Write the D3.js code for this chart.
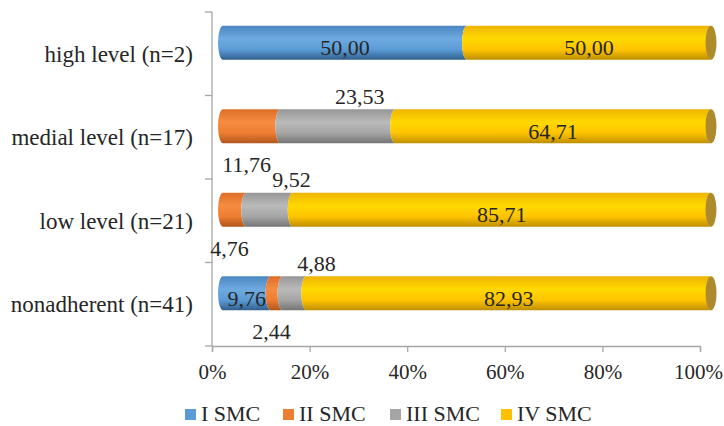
<!DOCTYPE html>
<html>
<head>
<meta charset="utf-8">
<script src="https://cdn.jsdelivr.net/npm/d3@7"></script>
<style>
html,body{margin:0;padding:0;background:#fff;}
svg{display:block;}
</style>
</head>
<body>
<svg id="chart" width="724" height="426"></svg>
<script>
const categories = ["high level (n=2)", "medial level (n=17)", "low level (n=21)", "nonadherent (n=41)"];
const seriesNames = ["I SMC", "II SMC", "III SMC", "IV SMC"];
const smc1 = [50.00, 0, 0, 9.76];
const smc2 = [0, 11.76, 4.76, 2.44];
const smc3 = [0, 23.53, 9.52, 4.88];
const smc4 = [50.00, 64.71, 85.71, 82.93];
// label placement per series / category: "in", "above", "below"
const place1 = ["in", "in", "in", "in"];
const place2 = ["in", "below", "below", "below"];
const place3 = ["in", "above", "above", "above"];
const place4 = ["in", "in", "in", "in"];
const xTicks = [0, 20, 40, 60, 80, 100];

const series = [smc1, smc2, smc3, smc4];
const places = [place1, place2, place3, place4];
const colors = ["#5b9bd5", "#ed7d31", "#a5a5a5", "#ffc000"];
const grads = [
  ["#4a86c0", "#6eaae0", "#5b9bd5", "#2f5f8e"],
  ["#de6e28", "#f58c40", "#ed7d31", "#b0561c"],
  ["#969696", "#bababa", "#a5a5a5", "#747474"],
  ["#eeb400", "#ffd800", "#ffc400", "#bd8e00"]
];
const capColor = "#ad8a2c";

const svg = d3.select("#chart");
const font = "'Liberation Serif', 'Times New Roman', serif";
const textColor = "#262626";
const axisColor = "#a6a6a6";

const x = d3.scaleLinear().domain([0, 100]).range([212, 700]);
const y = d3.scaleBand().domain(categories).range([12, 346]).padding(0);
const dx = 11, dy = -11;           // 3D depth offset
const barH = y.bandwidth() * 0.41;
const rx = 5;

// gradients
const defs = svg.append("defs");
grads.forEach((g, i) => {
  const lg = defs.append("linearGradient").attr("id", "g" + i)
    .attr("x1", 0).attr("y1", 0).attr("x2", 0).attr("y2", 1);
  [[0, g[0]], [0.38, g[1]], [0.7, g[2]], [1, g[3]]].forEach(s =>
    lg.append("stop").attr("offset", s[0]).attr("stop-color", s[1]));
});

// axes
const yAxisG = svg.append("g").attr("transform", `translate(${x(0)},0)`);
yAxisG.append("line").attr("x1", 0).attr("x2", 0).attr("y1", y.range()[0]).attr("y2", y.range()[1])
  .attr("stroke", axisColor).attr("stroke-width", 1.3);
const yTickPos = categories.map(c => y(c)).concat([y.range()[1]]);
yAxisG.selectAll("line.t").data(yTickPos).join("line").attr("class", "t")
  .attr("x1", -7).attr("x2", 0).attr("y1", d => d).attr("y2", d => d)
  .attr("stroke", axisColor).attr("stroke-width", 1.3);

const xAxisG = svg.append("g").attr("transform", `translate(0,${y.range()[1]})`)
  .call(d3.axisBottom(x).tickValues(xTicks).tickSize(6).tickFormat(d => d + "%"));
xAxisG.select(".domain").attr("stroke", axisColor).attr("stroke-width", 1.3);
xAxisG.selectAll(".tick line").attr("stroke", axisColor).attr("stroke-width", 1.3);
xAxisG.selectAll(".tick text").attr("font-family", font).attr("font-size", 21)
  .attr("fill", textColor).attr("dy", "1.05em").attr("y", 11);
xAxisG.selectAll(".tick text").filter(d => d === 100).attr("dx", -2);

// category labels
svg.append("g").selectAll("text").data(categories).join("text")
  .attr("x", 193).attr("y", d => y(d) + y.bandwidth() / 2)
  .attr("dy", "0.35em").attr("text-anchor", "end")
  .attr("font-family", font).attr("font-size", 23).attr("fill", textColor)
  .text(d => d);

// bars
const barsG = svg.append("g");
categories.forEach((cat, ci) => {
  const cy = y(cat) + y.bandwidth() / 2 + dy;
  const top = cy - barH / 2, bot = cy + barH / 2, ry = barH / 2;
  let cum = 0;
  const segs = [];
  series.forEach((s, si) => {
    const v = s[ci];
    if (v > 0) segs.push({ si, v, a: cum, b: cum + v });
    cum += v;
  });
  segs.forEach((sg, k) => {
    const x0 = x(sg.a) + dx, x1 = x(sg.b) + dx;
    const p = `M${x0},${top} A${rx},${ry} 0 0 0 ${x0},${bot} L${x1},${bot} A${rx},${ry} 0 0 1 ${x1},${top} Z`;
    barsG.append("path").attr("d", p).attr("fill", `url(#g${sg.si})`);
    if (k === segs.length - 1) {
      barsG.append("ellipse").attr("cx", x1).attr("cy", cy).attr("rx", rx + 0.5).attr("ry", ry)
        .attr("fill", capColor);
    }
  });
  // labels
  segs.forEach(sg => {
    const pl = places[sg.si][ci];
    const mx = x((sg.a + sg.b) / 2) + dx;
    let lx = mx, ly = cy + 5;
    if (pl === "above") { lx = mx + 22; ly = top - 13; }
    if (pl === "below") { lx = mx - 5; ly = bot + 21; }
    barsG.append("text").attr("x", lx).attr("y", ly).attr("dy", "0.35em")
      .attr("text-anchor", "middle").attr("font-family", font).attr("font-size", 22)
      .attr("fill", textColor).text(sg.v.toFixed(2).replace(".", ","));
  });
});

// legend
const legendX = [185, 283, 390, 501];
const lg = svg.append("g");
seriesNames.forEach((n, i) => {
  lg.append("rect").attr("x", legendX[i]).attr("y", 409).attr("width", 11).attr("height", 11).attr("fill", colors[i]);
  lg.append("text").attr("x", legendX[i] + 16).attr("y", 421)
    .attr("font-family", font).attr("font-size", 22).attr("fill", textColor).text(n);
});
</script>
</body>
</html>
